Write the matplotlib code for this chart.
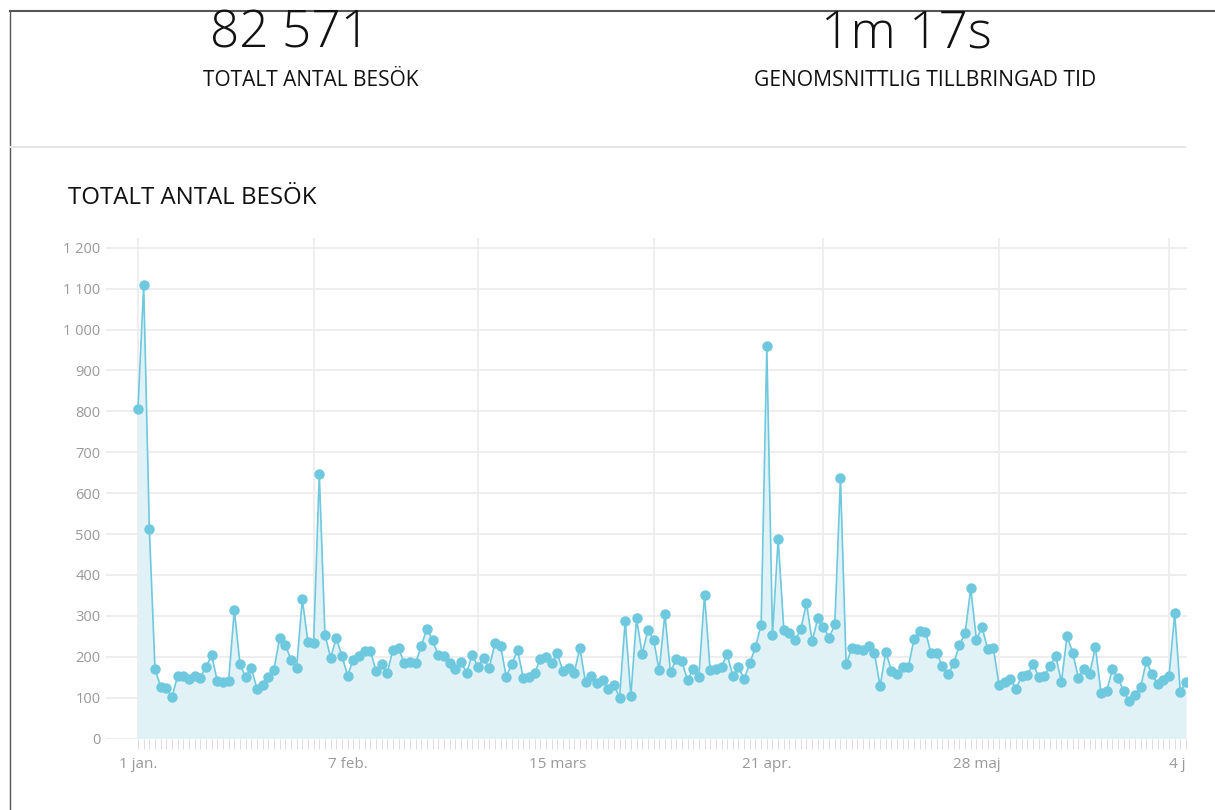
import numpy as np
import pandas as pd
import matplotlib
matplotlib.use('Agg')
import matplotlib.pyplot as plt
import matplotlib.dates as mdates
from matplotlib.lines import Line2D
from matplotlib.ticker import FixedLocator
from matplotlib.transforms import Bbox, TransformedBbox

# daily visits, 1 jan - 4 juli
visits = [
    807, 1109, 513, 170, 127, 124, 101, 154, 154, 145, 152, 149, 175, 204, 140, 139,
    141, 315, 182, 150, 173, 121, 132, 150, 168, 246, 229, 193, 173, 341, 236, 234,
    647, 254, 198, 245, 202, 154, 193, 202, 214, 215, 166, 181, 161, 217, 221, 184,
    188, 184, 226, 269, 240, 204, 202, 184, 169, 188, 161, 204, 176, 196, 173, 233,
    227, 151, 183, 216, 149, 151, 159, 194, 200, 184, 208, 166, 172, 161, 221, 137,
    153, 135, 142, 121, 131, 100, 288, 105, 294, 206, 266, 242, 167, 304, 162, 194,
    189, 143, 169, 151, 352, 167, 171, 175, 206, 153, 174, 146, 184, 224, 278, 959,
    253, 488, 266, 259, 240, 267, 331, 238, 294, 273, 246, 279, 636, 181, 221, 218,
    216, 227, 208, 128, 212, 166, 157, 175, 176, 244, 262, 261, 208, 208, 177, 157,
    184, 229, 257, 367, 242, 272, 218, 221, 130, 139, 145, 122, 153, 156, 182, 151,
    153, 177, 201, 139, 250, 209, 149, 171, 158, 224, 111, 117, 169, 148, 115, 91,
    107, 127, 189, 157, 133, 144, 152, 306, 113, 139,
]
dates = pd.date_range('2020-01-01', periods=len(visits), freq='D')

tick_dates = pd.date_range('2020-01-01', periods=6, freq='37D')
tick_labels = ['1 jan.', '7 feb.', '15 mars', '21 apr.', '28 maj', '4 juli']
month_starts = pd.date_range('2020-01-01', '2020-07-01', freq='MS')
y_ticks = list(range(0, 1300, 100))
y_labels = ['{:,}'.format(v).replace(',', ' ') for v in y_ticks]

total_visits = '82 571'
avg_time = '1m 17s'

plt.rcParams['font.family'] = ['Open Sans', 'DejaVu Sans']

W, H = 1215, 810
fig = plt.figure(figsize=(W / 100, H / 100), dpi=100)

def fx(px):
    return px / W

def fy(py):
    return 1 - py / H

# card borders
fig.add_artist(Line2D([fx(10), fx(1215)], [fy(11), fy(11)], color='#555555', lw=1.5))
fig.add_artist(Line2D([fx(10), fx(10)], [fy(11), fy(810)], color='#555555', lw=1.0))
fig.add_artist(Line2D([fx(10), fx(1185)], [fy(147), fy(147)], color='#e6e6e6', lw=1.5))

# header numbers
fig.text(fx(290), fy(34), total_visits, ha='center', va='center', fontsize=37,
         fontweight='light', color='#111111')
fig.text(fx(311), fy(80), 'TOTALT ANTAL BESÖK', ha='center', va='center',
         fontsize=15, color='#111111')
fig.text(fx(906), fy(34), avg_time, ha='center', va='center', fontsize=37,
         fontweight='light', color='#111111')
fig.text(fx(925), fy(80), 'GENOMSNITTLIG TILLBRINGAD TID', ha='center', va='center',
         fontsize=15.2, color='#111111')
fig.text(fx(68), fy(198), 'TOTALT ANTAL BESÖK', ha='left', va='center',
         fontsize=17.3, color='#111111')

# chart area
ax = fig.add_axes([fx(106), fy(738.5), fx(1186.6) - fx(106), fy(238) - fy(738.5)])
x0 = mdates.date2num(dates[0])
ax.set_xlim(x0 - 5.65, x0 + 185.1)
ax.set_ylim(0, 1224)

ax.fill_between(dates, visits, 0, color='#e1f2f7', lw=0, zorder=1)
ax.plot(dates, visits, color='#6ec8de', lw=1.2, marker='o', ms=7.5,
        markeredgewidth=0, zorder=3)

for d in month_starts:
    ax.axvline(d, color='#eeeeee', lw=1.4, zorder=0)
ax.set_yticks(y_ticks, y_labels)
ax.yaxis.grid(True, color='#eeeeee', lw=1.4, zorder=0)
ax.set_axisbelow(True)

ax.set_xticks(tick_dates, tick_labels)
ax.xaxis.set_minor_locator(FixedLocator(mdates.date2num(dates)))
ax.tick_params(axis='x', which='both', length=7, width=0.8, color='#dddddd',
               labelsize=11, labelcolor='#999999', pad=6)
ax.tick_params(axis='y', length=0, labelsize=10.5, labelcolor='#999999', pad=4)
for s in ax.spines.values():
    s.set_visible(False)

clip = TransformedBbox(Bbox([[0, 0], [fx(1185), 1]]), fig.transFigure)
for lab in ax.get_xticklabels():
    lab.set_clip_on(True)
    lab.set_clip_box(clip)

fig.savefig('out.png', dpi=100)
